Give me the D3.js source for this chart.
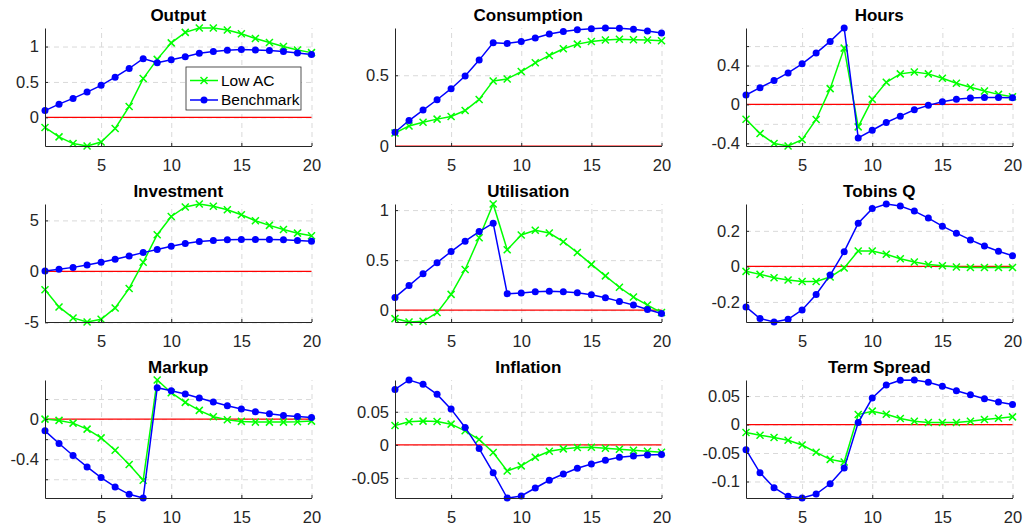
<!DOCTYPE html>
<html>
<head>
<meta charset="utf-8">
<script src="https://cdn.jsdelivr.net/npm/d3@7"></script>
<style>
  body { margin: 0; background: #fff; }
  svg { display: block; font-family: "Liberation Sans", Arial, Helvetica, sans-serif; }
</style>
</head>
<body>
<svg id="chart" width="1024" height="527"></svg>
<script>
// horizon (quarters)
const periods = [1, 2, 3, 4, 5, 6, 7, 8, 9, 10, 11, 12, 13, 14, 15, 16, 17, 18, 19, 20];
const xTicks = [5, 10, 15, 20];

const titles = ['Output', 'Consumption', 'Hours', 'Investment', 'Utilisation', 'Tobins Q', 'Markup', 'Inflation', 'Term Spread'];
const seriesNames = ['Low AC', 'Benchmark'];

// Low AC responses
const lowOutput = [-0.143, -0.276, -0.371, -0.405, -0.348, -0.157, 0.152, 0.548, 0.819, 1.052, 1.2, 1.262, 1.262, 1.233, 1.181, 1.114, 1.057, 1.0, 0.952, 0.914];
const lowConsumption = [0.092, 0.142, 0.168, 0.19, 0.209, 0.251, 0.329, 0.46, 0.474, 0.526, 0.588, 0.64, 0.687, 0.72, 0.739, 0.749, 0.754, 0.751, 0.749, 0.744];
const lowHours = [-0.152, -0.3, -0.403, -0.428, -0.362, -0.155, 0.162, 0.579, -0.231, 0.052, 0.228, 0.314, 0.334, 0.314, 0.269, 0.217, 0.176, 0.138, 0.103, 0.079];
const lowInvestment = [-1.81, -3.49, -4.57, -4.97, -4.7, -3.59, -1.68, 0.89, 3.59, 5.39, 6.32, 6.61, 6.38, 6.05, 5.56, 4.97, 4.51, 4.11, 3.75, 3.49];
const lowUtilisation = [-0.084, -0.118, -0.111, -0.024, 0.158, 0.407, 0.724, 1.061, 0.603, 0.751, 0.798, 0.771, 0.684, 0.576, 0.458, 0.343, 0.229, 0.131, 0.051, -0.024];
const lowTobinsQ = [-0.028, -0.045, -0.064, -0.077, -0.085, -0.085, -0.06, -0.009, 0.087, 0.087, 0.068, 0.043, 0.025, 0.011, 0.004, -0.004, -0.006, -0.006, -0.006, -0.006];
const lowMarkup = [0.0, -0.013, -0.04, -0.1, -0.187, -0.31, -0.453, -0.61, 0.39, 0.263, 0.167, 0.087, 0.023, -0.007, -0.023, -0.03, -0.03, -0.03, -0.027, -0.02];
const lowInflation = [0.0293, 0.0348, 0.0359, 0.0354, 0.0313, 0.0212, 0.0081, -0.0116, -0.0394, -0.0318, -0.0187, -0.0096, -0.0061, -0.004, -0.0035, -0.005, -0.0066, -0.0081, -0.0096, -0.0111];
const lowTermSpread = [-0.0141, -0.0188, -0.0229, -0.0276, -0.0359, -0.0488, -0.0612, -0.0659, 0.0176, 0.0235, 0.0182, 0.0106, 0.0059, 0.0035, 0.0035, 0.0035, 0.0059, 0.0088, 0.0112, 0.0135];

// Benchmark responses
const benchOutput = [0.095, 0.186, 0.267, 0.357, 0.452, 0.567, 0.69, 0.829, 0.771, 0.814, 0.857, 0.905, 0.929, 0.948, 0.957, 0.952, 0.943, 0.929, 0.91, 0.886];
const benchConsumption = [0.097, 0.18, 0.254, 0.327, 0.405, 0.495, 0.607, 0.73, 0.725, 0.739, 0.763, 0.791, 0.81, 0.822, 0.829, 0.834, 0.832, 0.825, 0.813, 0.799];
const benchHours = [0.097, 0.172, 0.245, 0.324, 0.417, 0.528, 0.648, 0.786, -0.345, -0.266, -0.186, -0.121, -0.055, -0.01, 0.028, 0.052, 0.066, 0.072, 0.072, 0.069];
const benchInvestment = [0.03, 0.2, 0.39, 0.63, 0.89, 1.18, 1.51, 1.84, 2.14, 2.47, 2.73, 2.93, 3.03, 3.09, 3.13, 3.13, 3.13, 3.09, 3.03, 2.96];
const benchUtilisation = [0.128, 0.246, 0.364, 0.475, 0.586, 0.69, 0.785, 0.869, 0.165, 0.172, 0.185, 0.189, 0.185, 0.175, 0.155, 0.125, 0.088, 0.051, 0.007, -0.034];
const benchTobinsQ = [-0.228, -0.294, -0.313, -0.298, -0.245, -0.158, -0.049, 0.083, 0.243, 0.325, 0.351, 0.34, 0.311, 0.272, 0.226, 0.187, 0.149, 0.115, 0.085, 0.06];
const benchMarkup = [-0.117, -0.243, -0.363, -0.477, -0.583, -0.677, -0.75, -0.787, 0.313, 0.283, 0.25, 0.21, 0.17, 0.133, 0.1, 0.073, 0.053, 0.037, 0.027, 0.017];
const benchInflation = [0.0838, 0.098, 0.0914, 0.0763, 0.054, 0.0263, -0.0056, -0.042, -0.0803, -0.0773, -0.0652, -0.0535, -0.044, -0.0354, -0.0288, -0.0232, -0.0187, -0.0167, -0.0152, -0.0146];
const benchTermSpread = [-0.0441, -0.0847, -0.111, -0.126, -0.129, -0.122, -0.104, -0.0765, 0.0035, 0.0465, 0.0694, 0.0776, 0.0782, 0.0741, 0.0671, 0.0594, 0.0524, 0.0453, 0.0394, 0.0353];

// y ticks: grid positions and the ones that carry labels
const gridTicks = [
  [0, 0.5, 1], [0, 0.5], [-0.4, -0.2, 0, 0.2, 0.4, 0.6],
  [-5, 0, 5], [0, 0.5, 1], [-0.2, 0, 0.2],
  [-0.6, -0.4, -0.2, 0, 0.2], [-0.05, 0, 0.05], [-0.1, -0.05, 0, 0.05]
];
const labelTicks = [
  [0, 0.5, 1], [0, 0.5], [-0.4, 0, 0.4],
  [-5, 0, 5], [0, 0.5, 1], [-0.2, 0, 0.2],
  [-0.4, 0], [-0.05, 0, 0.05], [-0.1, -0.05, 0, 0.05]
];

const lowAC = [lowOutput, lowConsumption, lowHours, lowInvestment, lowUtilisation, lowTobinsQ, lowMarkup, lowInflation, lowTermSpread];
const benchmark = [benchOutput, benchConsumption, benchHours, benchInvestment, benchUtilisation, benchTobinsQ, benchMarkup, benchInflation, benchTermSpread];

const colLeft = [45, 395, 746];
const rowTop = [28, 204, 380];
const w = 266.5, h = 118;
const green = '#00ff00', blue = '#0000ff', axisColor = '#262626';

const svg = d3.select('#chart');

const xMark = d3.path();
xMark.moveTo(-3.5, -3.5); xMark.lineTo(3.5, 3.5);
xMark.moveTo(-3.5, 3.5); xMark.lineTo(3.5, -3.5);

titles.forEach((title, k) => {
  const left = colLeft[k % 3], top = rowTop[Math.floor(k / 3)];
  const low = lowAC[k], bench = benchmark[k];

  const x = d3.scaleLinear().domain([1, 20]).range([left, left + w]);
  const y = d3.scaleLinear()
    .domain(d3.extent(low.concat(bench, [0])))
    .range([top + h, top]);

  const g = svg.append('g');

  // dashed grid
  g.append('g')
    .attr('transform', `translate(0,${top + h})`)
    .call(d3.axisBottom(x).tickValues(xTicks).tickSize(-h).tickFormat(''))
    .call(s => s.select('.domain').remove());
  g.append('g')
    .attr('transform', `translate(${left},0)`)
    .call(d3.axisLeft(y).tickValues(gridTicks[k]).tickSize(-w).tickFormat(''))
    .call(s => s.select('.domain').remove());
  g.selectAll('.tick line')
    .attr('stroke', '#d9d9d9')
    .attr('stroke-dasharray', '5,4');

  // zero line
  g.append('line')
    .attr('x1', x(1)).attr('x2', x(20))
    .attr('y1', y(0)).attr('y2', y(0))
    .attr('stroke', '#ff0000')
    .attr('stroke-width', 1.2);

  const line = d3.line()
    .x((d, i) => x(periods[i]))
    .y(d => y(d));

  g.append('path')
    .datum(low)
    .attr('fill', 'none')
    .attr('stroke', green)
    .attr('stroke-width', 1.5)
    .attr('d', line);
  g.selectAll('.xm')
    .data(low)
    .enter()
    .append('path')
    .attr('class', 'xm')
    .attr('transform', (d, i) => `translate(${x(periods[i])},${y(d)})`)
    .attr('d', xMark.toString())
    .attr('stroke', green)
    .attr('stroke-width', 1.5);

  g.append('path')
    .datum(bench)
    .attr('fill', 'none')
    .attr('stroke', blue)
    .attr('stroke-width', 1.5)
    .attr('d', line);
  g.selectAll('circle')
    .data(bench)
    .enter()
    .append('circle')
    .attr('cx', (d, i) => x(periods[i]))
    .attr('cy', d => y(d))
    .attr('r', 3.5)
    .attr('fill', blue);

  // axes
  const fmt = d => labelTicks[k].includes(d) ? String(d) : '';
  const xAxis = g.append('g')
    .attr('transform', `translate(0,${top + h})`)
    .call(d3.axisBottom(x).tickValues(xTicks).tickSizeInner(-3).tickSizeOuter(0).tickPadding(13));
  const yAxis = g.append('g')
    .attr('transform', `translate(${left},0)`)
    .call(d3.axisLeft(y).tickValues(gridTicks[k]).tickFormat(fmt).tickSizeInner(-3).tickSizeOuter(0).tickPadding(6));
  [xAxis, yAxis].forEach(a => {
    a.select('.domain').attr('stroke', axisColor);
    a.selectAll('.tick line').attr('stroke', axisColor);
    a.selectAll('.tick text').attr('fill', axisColor).style('font-size', '16.5px');
  });

  g.append('text')
    .attr('x', left + w / 2)
    .attr('y', top - 7)
    .attr('text-anchor', 'middle')
    .style('font-size', '17px')
    .style('font-weight', 'bold')
    .attr('fill', '#000')
    .text(title);

  // legend only in the first panel
  if (k === 0) {
    const lg = g.append('g').attr('transform', `translate(${left + 141},${top + 39})`);
    lg.append('rect')
      .attr('width', 115).attr('height', 43)
      .attr('fill', '#fff').attr('stroke', axisColor).attr('stroke-width', 0.8);
    seriesNames.forEach((name, j) => {
      const cy = 13.5 + j * 19.5;
      const c = j === 0 ? green : blue;
      lg.append('line')
        .attr('x1', 4).attr('x2', 32).attr('y1', cy).attr('y2', cy)
        .attr('stroke', c).attr('stroke-width', 1.5);
      if (j === 0) {
        lg.append('path').attr('transform', `translate(18,${cy})`)
          .attr('d', xMark.toString()).attr('stroke', c).attr('stroke-width', 1.5);
      } else {
        lg.append('circle').attr('cx', 18).attr('cy', cy).attr('r', 3.5).attr('fill', c);
      }
      lg.append('text')
        .attr('x', 35).attr('y', cy).attr('dy', '0.35em')
        .style('font-size', '15.5px')
        .attr('fill', '#000')
        .text(name);
    });
  }
});
</script>
</body>
</html>
